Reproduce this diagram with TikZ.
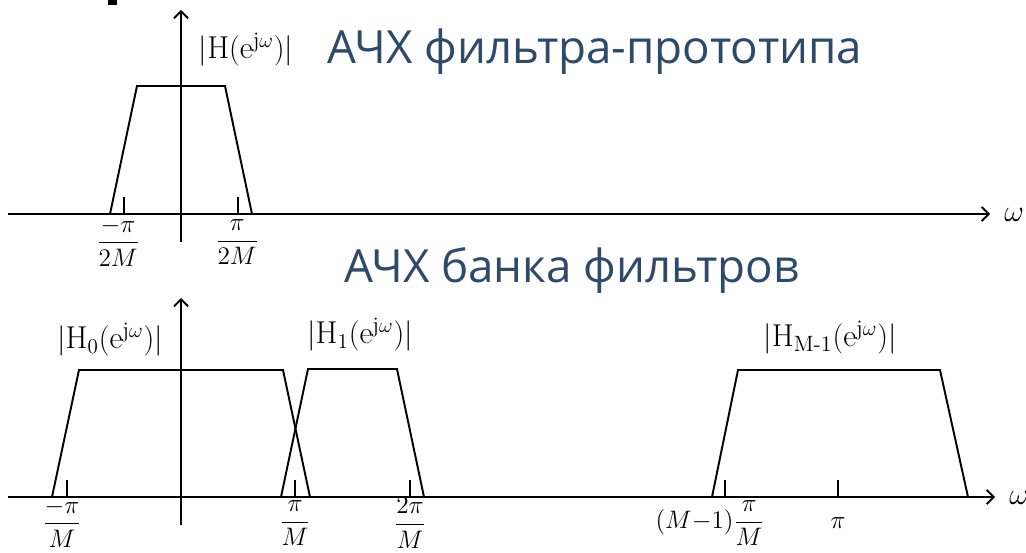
\documentclass[tikz,border=0pt]{standalone}
\usepackage{amsmath,amssymb}
\usepackage{fontspec}
\newfontfamily\titlefont{Open Sans}
\usepackage{tikz}
\usetikzlibrary{arrows.meta}
\definecolor{titleblue}{RGB}{46,74,107}
\newcommand{\lbl}[1]{\fontsize{18}{21}\selectfont$#1$}

\begin{document}
\begin{tikzpicture}[>={Straight Barb[length=4pt,width=8pt]},scale=1,
    line width=1.1pt,
    title/.style={text=titleblue,font=\titlefont\fontsize{26}{31}\selectfont},
    fr/.style={font=\fontsize{14}{17}\selectfont,inner sep=0pt}]
	  \useasboundingbox (0,0) rectangle (20.52,-11.06);
	  \fill (2.16,0) rectangle (2.34,-0.1);
	  % top: prototype
	  \draw[->] (3.62,-4.84) -- (3.62,-0.2);
	  \draw[->] (0.16,-4.28) -- (19.8,-4.28);
	  \node[anchor=west] (w1) at (19.95,-4.3) {\lbl{\omega}};
	  \draw (2.2,-4.28) -- (2.74,-1.72) -- (4.5,-1.72) -- (5.04,-4.28);
	  \draw (2.48,-3.94) -- (2.48,-4.28);
	  \draw (4.76,-3.94) -- (4.76,-4.28);
	  \node[fr] (t1) at (2.36,-4.84) {$\dfrac{-\pi}{2M}$};
	  \node[fr] (t2) at (4.74,-4.84) {$\dfrac{\pi}{2M}$};
	  \node (h) at (4.92,-1.0) {\lbl{|\mathrm{H}(\mathrm{e}^{\mathrm{j}\omega})|}};
	  \node[title] (ttl1) at (11.9,-1.04) {АЧХ фильтра-прототипа};
	  % bottom: filter bank
	  \draw[->] (3.62,-10.5) -- (3.62,-5.96);
	  \draw[->] (0.16,-9.94) -- (19.9,-9.94);
	  \node[anchor=west] (w2) at (20.05,-9.96) {\lbl{\omega}};
	  \draw (1.04,-9.94) -- (1.58,-7.4) -- (5.66,-7.4) -- (6.2,-9.94);
	  \draw (5.62,-9.94) -- (6.16,-7.38) -- (7.94,-7.38) -- (8.48,-9.94);
	  \draw (14.24,-9.94) -- (14.76,-7.4) -- (18.8,-7.4) -- (19.36,-9.94);
	  \foreach \t in {1.34,5.9,8.2,14.5,16.76}
	    \draw (\t,-9.6) -- (\t,-9.94);
	  \node[fr] (b1) at (1.24,-10.46) {$\dfrac{-\pi}{M}$};
	  \node[fr] (b2) at (5.9,-10.46) {$\dfrac{\pi}{M}$};
	  \node[fr] (b3) at (8.2,-10.46) {$\dfrac{2\pi}{M}$};
	  \node[fr] (b4) at (14.2,-10.46) {$(M{-}1)\dfrac{\pi}{M}$};
	  \node[fr] (b5) at (16.76,-10.46) {$\pi$};
	  \node (h0) at (2.2,-6.8) {\lbl{|\mathrm{H}_0(\mathrm{e}^{\mathrm{j}\omega})|}};
	  \node (h1) at (7.2,-6.7) {\lbl{|\mathrm{H}_1(\mathrm{e}^{\mathrm{j}\omega})|}};
	  \node (hm) at (16.6,-6.76) {\lbl{|\mathrm{H}_{\mathrm{M\text{-}1}}(\mathrm{e}^{\mathrm{j}\omega})|}};
	  \node[title] (ttl2) at (11.44,-5.4) {АЧХ банка фильтров};
	\end{tikzpicture}
\end{document}
